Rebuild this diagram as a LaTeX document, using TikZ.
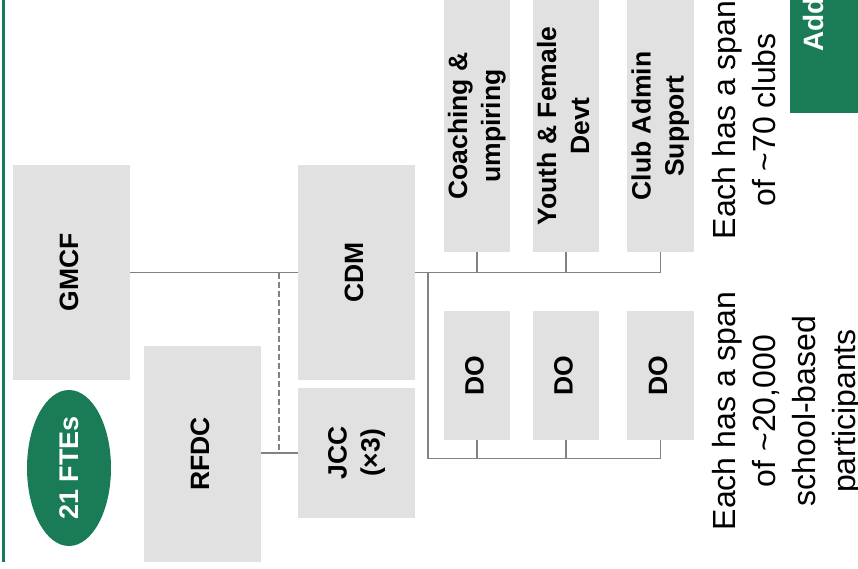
\documentclass[tikz,border=0pt]{standalone}
\usepackage{fontspec}
\setmainfont{Liberation Sans}
\usepackage{xcolor}
\usetikzlibrary{shapes.geometric}

\definecolor{boxgray}{RGB}{225,225,225}
\definecolor{linegray}{RGB}{130,130,130}
\definecolor{fteGreen}{RGB}{26,124,86}

% rotated, centred label
\newcommand{\vlbl}[1]{\rotatebox{90}{\begin{tabular}{@{}c@{}}#1\end{tabular}}}

\begin{document}
\begin{tikzpicture}[x=1pt, y=-1pt,
    orgbox/.style={fill=boxgray, inner sep=0pt, outer sep=0pt,
      font=\bfseries\fontsize{26.5}{33}\selectfont},
    link/.style={draw=linegray, line width=1.5pt},
    spannote/.style={inner sep=0pt, font=\fontsize{32}{40}\selectfont}]
  \useasboundingbox (0,0) rectangle (858,569);
  \clip (0,0) rectangle (858,569);

  % Left frame edge
  \draw[fteGreen, line width=3.5pt] (3.5,0) -- (3.5,562);

  % Head count
  \node[ellipse, fill=fteGreen, minimum width=84pt, minimum height=156pt, inner sep=0pt,
    text=white, font=\bfseries\fontsize{27}{32}\selectfont] (ftes) at (69,468) {\rotatebox{90}{21 FTEs}};

  % Leadership
  \node[orgbox, minimum width=117pt, minimum height=215pt] (gmcf) at (71.5,272.5) {\vlbl{GMCF}};
  \node[orgbox, minimum width=117pt, minimum height=216pt] (rfdc) at (202.5,454) {\vlbl{RFDC}};
  \node[orgbox, minimum width=117pt, minimum height=215pt] (cdm) at (356.5,272.5) {\vlbl{CDM}};
  \node[orgbox, minimum width=117pt, minimum height=130pt] (jcc) at (356.5,453) {\vlbl{JCC\\(×3)}};

  % Club-facing roles
  \node[orgbox, minimum width=66pt, minimum height=252pt] (coach) at (477,126) {\vlbl{Coaching \&\\umpiring}};
  \node[orgbox, minimum width=66pt, minimum height=252pt] (youth) at (566,126) {\vlbl{Youth \& Female\\Devt}};
  \node[orgbox, minimum width=67pt, minimum height=252pt] (admin) at (660.5,126) {\vlbl{Club Admin\\Support}};

  % Development officers
  \node[orgbox, minimum width=66pt, minimum height=129pt] (do1) at (477,375.5) {\vlbl{DO}};
  \node[orgbox, minimum width=66pt, minimum height=129pt] (do2) at (566,375.5) {\vlbl{DO}};
  \node[orgbox, minimum width=67pt, minimum height=129pt] (do3) at (660.5,375.5) {\vlbl{DO}};

  % Reporting lines
  \draw[link] (gmcf.east) -- (cdm.west);
  \coordinate (tap) at (279,272.5);
  \draw[link, dash pattern=on 6pt off 3pt] (tap) -- (tap |- jcc.west);
  \draw[link] (jcc.west) -- (jcc.west -| rfdc.east);

  \coordinate (fork) at (428,272.5);
  \coordinate (low) at (428,458.5);
  \draw[link] (cdm.east) -- (admin.south |- cdm.east);
  \foreach \n in {coach,youth,admin}
    \draw[link] (\n.south) -- (\n.south |- fork);
  \draw[link] (fork) -- (low) -| (do3.south);
  \foreach \n in {do1,do2}
    \draw[link] (\n.south) -- (\n.south |- low);

  % Spans of control
  \node[spannote] (clubspan) at (747,120) {\vlbl{Each has a span\\of \textasciitilde70 clubs}};
  \node[spannote] (schoolspan) at (787,411) {\vlbl{Each has a span\\of \textasciitilde20,000\\school-based\\participants}};

  % Cut-off panel on the right
  \node[fill=fteGreen, inner sep=0pt, minimum width=80pt, minimum height=126pt] (addbox) at (830,50) {};
  \node[anchor=south, inner sep=0pt, text=white, font=\bfseries\fontsize{28}{34}\selectfont] (addlbl) at (813,52) {\rotatebox{90}{Add}};
\end{tikzpicture}
\end{document}
